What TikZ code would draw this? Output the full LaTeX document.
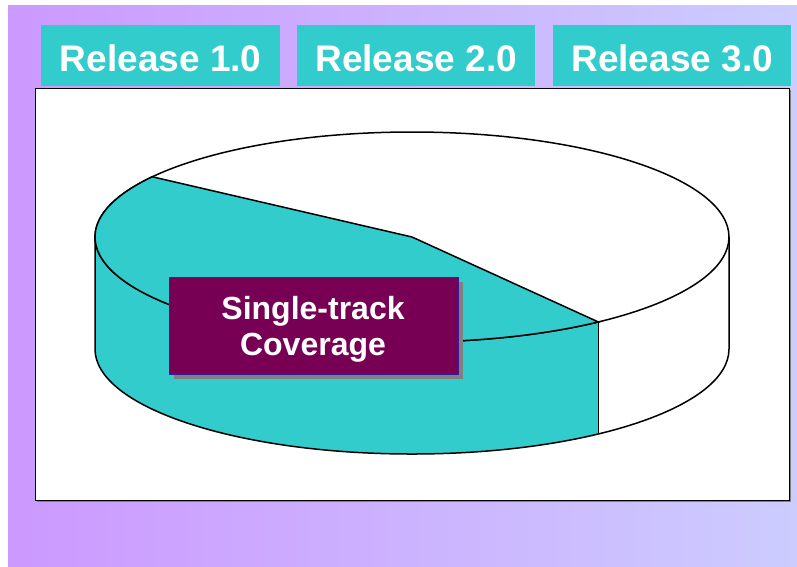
\documentclass[tikz,border=0pt]{standalone}
\usepackage{fontspec}
\setmainfont{Liberation Sans}
\usetikzlibrary{calc,shadows}
\definecolor{tealc}{HTML}{33CCCC}
\definecolor{bgL}{HTML}{CC99FF}
\definecolor{bgR}{HTML}{CCCCFF}
\definecolor{plum}{HTML}{770055}
\definecolor{plumedge}{HTML}{3A1A99}
\definecolor{shadowgray}{HTML}{808080}
\begin{document}
\begin{tikzpicture}[x=1pt,y=1pt,
  release/.style={fill=tealc, text=white, inner sep=0pt, anchor=north west,
    font=\fontsize{37}{40}\selectfont\bfseries, minimum height=61pt, text depth=0pt},
  relabel/.style={text=white, font=\fontsize{37}{40}\selectfont\bfseries, inner sep=0pt,
    anchor=base},
  panel/.style={draw=black, line width=1.2pt, fill=white, inner sep=0pt, anchor=north west,
    minimum width=754pt, minimum height=412pt,
    drop shadow={shadow xshift=1.5pt, shadow yshift=-1.5pt, fill=shadowgray, opacity=1}},
  covbox/.style={fill=plum, draw=plumedge, line width=0.8pt, inner sep=0pt,
    minimum width=289pt, minimum height=97pt,
    drop shadow={shadow xshift=5pt, shadow yshift=-5pt, fill=shadowgray, opacity=1}},
  covtext/.style={text=white, align=center, font=\fontsize{32}{36}\selectfont\bfseries,
    inner sep=0pt, anchor=base},
  rim/.style={line width=1.5pt, draw=black},
]
% page and gradient backdrop
\useasboundingbox (0,0) rectangle (797,-566);
\fill[white] (0,0) rectangle (797,-566);
\shade[left color=bgL, right color=bgR] (8,-5) rectangle (797,-566);

% release tabs
\node[release, minimum width=239pt] (r1) at (41,-25) {};
\node[release, minimum width=238pt] (r2) at (297,-25) {};
\node[release, minimum width=238pt] (r3) at (553,-25) {};
\node[relabel] (t1) at ($(r1.south)+(0,15)$) {Release 1.0};
\node[relabel] (t2) at ($(r2.south)+(0,15)$) {Release 2.0};
\node[relabel] (t3) at ($(r3.south)+(0,15)$) {Release 3.0};

% white chart panel
\node[panel] (panel) at (35,-88) {};

% 3-D pie: top ellipse centre, radii 317 x 105, depth 112
\coordinate (pc) at (412,-237);
% side wall, teal part
\fill[tealc] ($(pc)+(180:317 and 105)$)
  arc[start angle=180, end angle=306, x radius=317, y radius=105]
  -- ++(0,-112)
  arc[start angle=306, end angle=180, x radius=317, y radius=105] -- cycle;
% side wall, white part
\fill[white] ($(pc)+(306:317 and 105)$)
  arc[start angle=306, end angle=360, x radius=317, y radius=105]
  -- ++(0,-112)
  arc[start angle=360, end angle=306, x radius=317, y radius=105] -- cycle;
% top face
\filldraw[rim, fill=white] (pc) ellipse[x radius=317, y radius=105];
\filldraw[rim, fill=tealc] (pc) -- ($(pc)+(145:317 and 105)$)
  arc[start angle=145, end angle=306, x radius=317, y radius=105] -- cycle;
% wall outlines
\draw[rim] ($(pc)+(180:317 and 105)$) -- ++(0,-112)
  arc[start angle=180, end angle=360, x radius=317, y radius=105] -- ++(0,112);
\draw[rim] ($(pc)+(306:317 and 105)$) -- ++(0,-112);

% label
\node[covbox] (cov) at (313.5,-325.5) {};
\node[covtext] (covtxt) at (313,-355) {Single-track\\Coverage};
\end{tikzpicture}
\end{document}
